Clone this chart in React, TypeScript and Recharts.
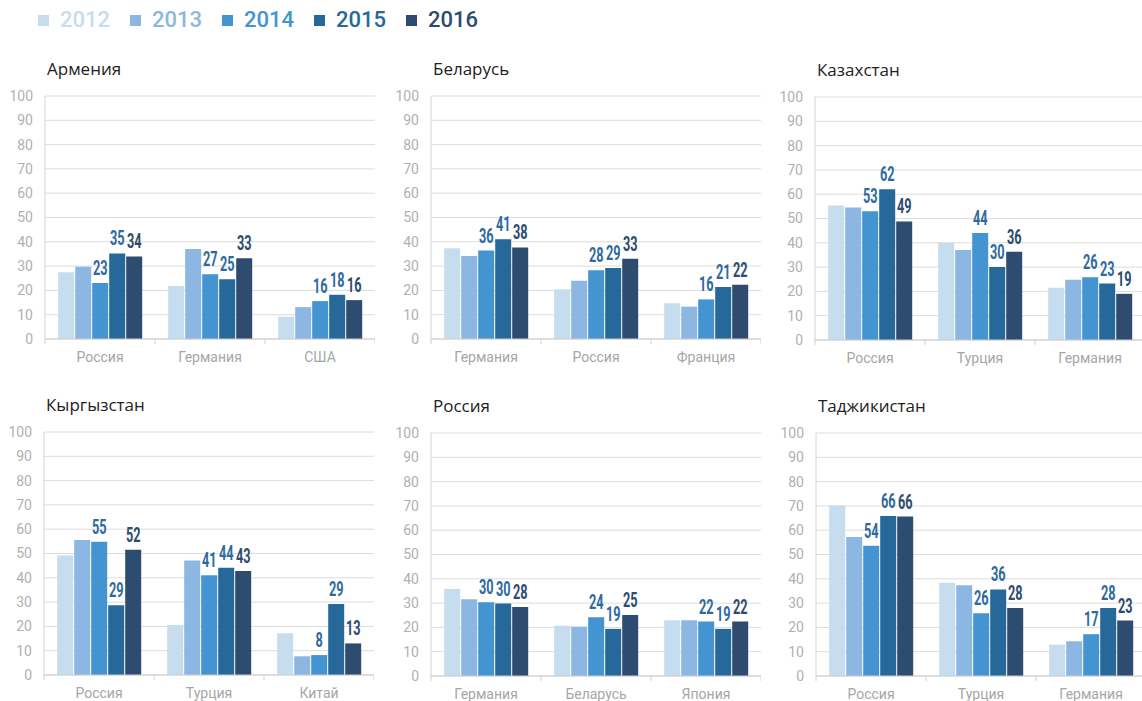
import React from "react"
import { BarChart, Bar, XAxis, YAxis, CartesianGrid } from "recharts"

const YEARS = ["2012", "2013", "2014", "2015", "2016"]
const COLORS = ["#c6dcef", "#8bb7e2", "#4394d1", "#266899", "#2d4c6f"]
const LABEL_COLORS = ["", "", "#2e6aa0", "#2e6aa0", "#2d4c6f"]
const Y_TICKS = [0, 10, 20, 30, 40, 50, 60, 70, 80, 90, 100]

// values per category, in YEARS order
const ARMENIA_CATS = ["Россия", "Германия", "США"]
const ARMENIA_VALUES = [[27.5, 29.7, 23, 35.2, 34], [21.8, 37, 26.6, 24.6, 33.2], [9.2, 13.1, 15.6, 18.2, 16]]

const BELARUS_CATS = ["Германия", "Россия", "Франция"]
const BELARUS_VALUES = [[37.3, 34.2, 36.4, 41, 37.7], [20.4, 24, 28.3, 29.2, 33], [14.7, 13.3, 16.3, 21.4, 22.3]]

const KAZAKHSTAN_CATS = ["Россия", "Турция", "Германия"]
const KAZAKHSTAN_VALUES = [[55.3, 54.5, 53, 62, 48.8], [40, 37, 44, 30, 36.3], [21.5, 24.8, 25.8, 23.2, 19]]

const KYRGYZSTAN_CATS = ["Россия", "Турция", "Китай"]
const KYRGYZSTAN_VALUES = [[49.2, 55.6, 54.8, 28.7, 51.5], [20.6, 47.1, 41, 44.1, 42.8], [17.2, 7.7, 8.2, 29.2, 13]]

const RUSSIA_CATS = ["Германия", "Беларусь", "Япония"]
const RUSSIA_VALUES = [[35.8, 31.6, 30.3, 29.8, 28.4], [20.7, 20.3, 24.2, 19.4, 25.1], [22.9, 22.9, 22.4, 19.4, 22.4]]

const TAJIKISTAN_CATS = ["Россия", "Турция", "Германия"]
const TAJIKISTAN_VALUES = [[70.2, 57.2, 53.6, 65.8, 65.6], [38.4, 37.3, 25.8, 35.6, 28], [12.9, 14.3, 17.2, 28, 22.8]]

const PLOT_W = 330
const PLOT_H = 243
const AXIS_W = 45
const TOP_PAD = 10

function toRows(cats: string[], values: number[][]) {
  return cats.map((name, i) => {
    const row: Record<string, any> = { name }
    YEARS.forEach((y, j) => (row["y" + y] = values[i][j]))
    return row
  })
}

const makeLabel = (color: string) => (props: any) => {
  const { x, y, width, value } = props
  const s = String(Math.round(Number(value)))
  return (
    <text x={x + width / 2} y={y - 8} textAnchor="middle" fill={color} fontSize={20} fontWeight={700}
      fontFamily="Roboto" textLength={s.length * 7.3} lengthAdjust="spacingAndGlyphs">
      {s}
    </text>
  )
}

function CatTick(props: any) {
  const { x, y, payload, index } = props
  const band = PLOT_W / 3
  return (
    <g>
      <line x1={x - band / 2} x2={x - band / 2} y1={y} y2={y + 5} stroke="#cfcfcf" />
      {index === 2 && <line x1={x + band / 2} x2={x + band / 2} y1={y} y2={y + 5} stroke="#cfcfcf" />}
      <text x={x} y={y + 23} textAnchor="middle" fill="#a6a6a6" fontSize={14} fontFamily="Roboto">{payload.value}</text>
    </g>
  )
}

function Panel({ title, cats, values, left, top }: { title: string; cats: string[]; values: number[][]; left: number; top: number }) {
  const data = toRows(cats, values)
  return (
    <>
      <div style={{ position: "absolute", left: left + 2, top: top - 37, fontFamily: "Open Sans", fontSize: 17, color: "#222", lineHeight: "20px" }}>
        {title}
      </div>
      <div style={{ position: "absolute", left: left - AXIS_W, top: top - TOP_PAD }}>
        <BarChart width={AXIS_W + PLOT_W} height={TOP_PAD + PLOT_H + 32} data={data}
          margin={{ top: TOP_PAD, right: 0, bottom: 0, left: 0 }} barCategoryGap="12%" barGap={1}>
          <CartesianGrid vertical={false} stroke="#dcdcdc" />
          <XAxis dataKey="name" height={32} tickSize={0} tickMargin={0} tickLine={false}
            axisLine={{ stroke: "#cfcfcf" }} tick={<CatTick />} interval={0} />
          <YAxis width={AXIS_W} domain={[0, 100]} ticks={Y_TICKS} tickSize={0} tickMargin={12} tickLine={false}
            axisLine={{ stroke: "#d4d4d4" }} tick={{ fill: "#b0b0b0", fontSize: 14, fontFamily: "Roboto" }} />
          {YEARS.map((y, j) => (
            <Bar key={y} dataKey={"y" + y} fill={COLORS[j]} isAnimationActive={false}
              label={j >= 2 ? makeLabel(LABEL_COLORS[j]) : undefined} />
          ))}
        </BarChart>
      </div>
    </>
  )
}

function Legend() {
  return (
    <div style={{ position: "absolute", left: 38, top: 6, display: "flex", alignItems: "center", fontFamily: "Roboto", fontSize: 22, fontWeight: 500 }}>
      {YEARS.map((y, j) => (
        <div key={y} style={{ display: "flex", alignItems: "center", marginRight: 20 }}>
          <span style={{ width: 11, height: 11, background: COLORS[j], display: "inline-block", marginRight: 11 }} />
          <span style={{ color: COLORS[j], lineHeight: "28px" }}>{y}</span>
        </div>
      ))}
    </div>
  )
}

export default function App() {
  return (
    <div style={{ position: "absolute", left: 0, top: 0, width: 1142, height: 701, overflow: "hidden", background: "#fff" }}>
      <Legend />
      <Panel title="Армения" cats={ARMENIA_CATS} values={ARMENIA_VALUES} left={45} top={96} />
      <Panel title="Беларусь" cats={BELARUS_CATS} values={BELARUS_VALUES} left={431} top={96} />
      <Panel title="Казахстан" cats={KAZAKHSTAN_CATS} values={KAZAKHSTAN_VALUES} left={815} top={97} />
      <Panel title="Кыргызстан" cats={KYRGYZSTAN_CATS} values={KYRGYZSTAN_VALUES} left={44} top={432} />
      <Panel title="Россия" cats={RUSSIA_CATS} values={RUSSIA_VALUES} left={431} top={433} />
      <Panel title="Таджикистан" cats={TAJIKISTAN_CATS} values={TAJIKISTAN_VALUES} left={816} top={433} />
    </div>
  )
}
